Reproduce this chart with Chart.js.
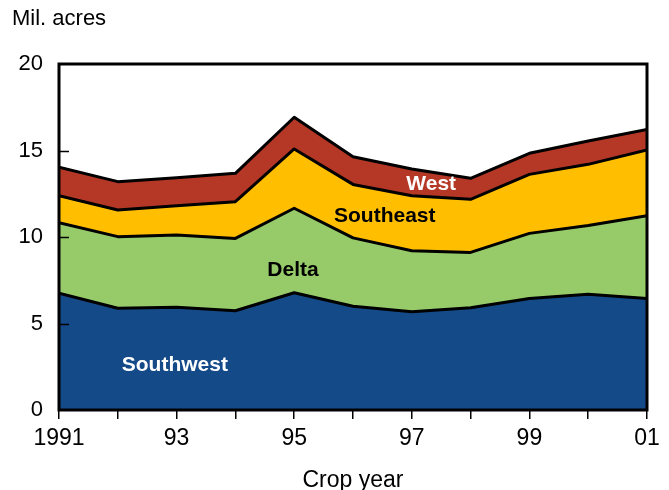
<!DOCTYPE html>
<html>
<head>
<meta charset="utf-8">
<script src="https://cdn.jsdelivr.net/npm/chart.js@4"></script>
<style>
  html, body { margin: 0; padding: 0; background: #fff; }
  #wrap { width: 669px; height: 490px; }
</style>
</head>
<body>
<div id="wrap"><canvas id="c" width="669" height="490"></canvas></div>
<script>
'use strict';

// ── Data (million acres by region, crop years 1991–2001) ─────────────
const years     = [1991, 1992, 1993, 1994, 1995, 1996, 1997, 1998, 1999, 2000, 2001];
const southwest = [6.75, 5.88, 5.94, 5.74, 6.78, 6.00, 5.68, 5.91, 6.45, 6.69, 6.45];
const delta     = [4.08, 4.14, 4.18, 4.18, 4.88, 3.95, 3.53, 3.20, 3.76, 3.97, 4.78];
const southeast = [1.56, 1.54, 1.69, 2.12, 3.43, 3.09, 3.18, 3.07, 3.41, 3.54, 3.80];
const west      = [1.64, 1.64, 1.62, 1.64, 1.83, 1.60, 1.54, 1.21, 1.22, 1.35, 1.19];
const yTicks    = [0, 5, 10, 15, 20];

const FONT = 'Liberation Sans, Arial, sans-serif';

const series = [
  { label: 'Southwest', data: southwest, color: '#154a89', fill: 'origin' },
  { label: 'Delta',     data: delta,     color: '#97cb69', fill: '-1' },
  { label: 'Southeast', data: southeast, color: '#ffbe00', fill: '-1' },
  { label: 'West',      data: west,      color: '#b53826', fill: '-1' }
];

// in-area labels: [text, x (year), y (value), colour]
const areaLabels = [
  ['Southwest', 1992.97, 2.6,  '#fff'],
  ['Delta',     1994.98, 8.08, '#000'],
  ['Southeast', 1996.54, 11.2, '#000'],
  ['West',      1997.33, 13.05, '#fff']
];

// inward y ticks, frame and area labels
const overlay = {
  id: 'overlay',
  afterDatasetsDraw(chart) {
    const { ctx, chartArea: a, scales: { x, y } } = chart;
    ctx.save();
    ctx.strokeStyle = '#000';
    ctx.lineWidth = 1.5;
    yTicks.slice(1, -1).forEach(v => {
      const py = Math.round(y.getPixelForValue(v)) + 0.5;
      ctx.beginPath(); ctx.moveTo(a.left, py); ctx.lineTo(a.left + 10, py); ctx.stroke();
    });
    ctx.lineWidth = 3;
    ctx.strokeRect(a.left, a.top, a.right - a.left, a.bottom - a.top);
    ctx.font = 'bold 21px ' + FONT;
    ctx.textAlign = 'center';
    ctx.textBaseline = 'middle';
    areaLabels.forEach(([t, xv, yv, col]) => {
      ctx.fillStyle = col;
      ctx.fillText(t, x.getPixelForValue(xv), y.getPixelForValue(yv));
    });
    ctx.restore();
  }
};

new Chart(document.getElementById('c'), {
  type: 'line',
  data: {
    labels: years,
    datasets: series.map(s => ({
      label: s.label,
      data: years.map((yr, i) => ({ x: yr, y: s.data[i] })),
      backgroundColor: s.color,
      borderColor: '#000',
      borderWidth: 3,
      borderJoinStyle: 'round',
      pointRadius: 0,
      tension: 0,
      fill: s.fill
    }))
  },
  options: {
    responsive: false,
    animation: false,
    layout: { padding: { left: 12, right: 22, top: 0, bottom: 0 } },
    scales: {
      x: {
        type: 'linear', min: 1991, max: 2001,
        border: { display: false },
        grid: { drawOnChartArea: false, color: '#000', lineWidth: 1.5, tickLength: 9 },
        ticks: {
          stepSize: 1, autoSkip: false, maxRotation: 0, padding: 6,
          color: '#000', font: { family: FONT, size: 23 },
          callback: v => (v % 2 === 0) ? '' : (v === 1991 ? '1991' : String(v).slice(2))
        },
        title: { display: true, text: 'Crop year', color: '#000', font: { family: FONT, size: 23 }, padding: { top: 6, bottom: -4 } },
        afterFit: s => { s.height = 80; }
      },
      y: {
        stacked: true, min: 0, max: 20,
        border: { display: false },
        grid: { display: false },
        ticks: { stepSize: 5, color: '#000', font: { family: FONT, size: 22 }, padding: 8 },
        afterFit: s => { s.width = 47; }
      }
    },
    plugins: {
      legend: { display: false },
      tooltip: { enabled: false },
      title: {
        display: true, text: 'Mil. acres', align: 'start', color: '#000',
        font: { family: FONT, size: 22, weight: 'normal' },
        padding: { top: 6, bottom: 31.6 }
      }
    }
  },
  plugins: [overlay]
});
</script>
</body>
</html>
